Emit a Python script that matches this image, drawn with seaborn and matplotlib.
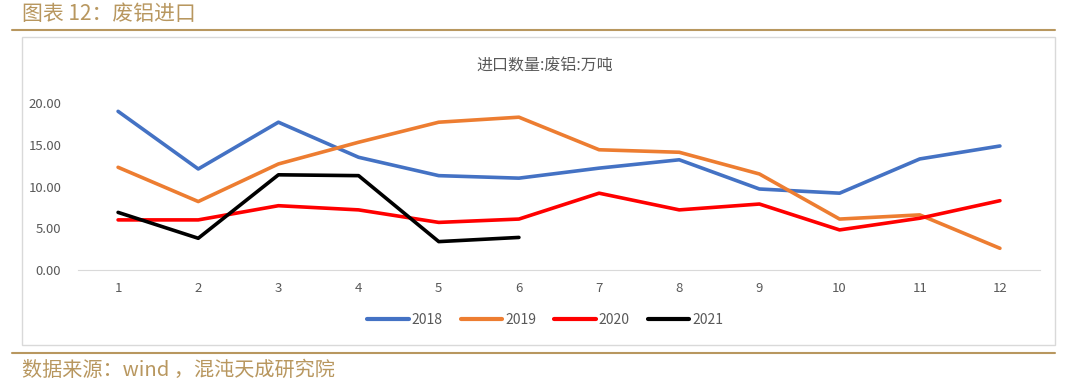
import pandas as pd
import seaborn as sns
import matplotlib.pyplot as plt
from matplotlib.patches import Rectangle

# Data
months = list(range(1, 13))
v2018 = [19.0, 12.1, 17.7, 13.5, 11.3, 11.0, 12.2, 13.2, 9.7, 9.2, 13.3, 14.85]
v2019 = [12.3, 8.2, 12.7, 15.3, 17.7, 18.3, 14.4, 14.1, 11.5, 6.1, 6.6, 2.6]
v2020 = [6.0, 6.0, 7.7, 7.2, 5.7, 6.1, 9.2, 7.2, 7.9, 4.8, 6.2, 8.3]
v2021 = [6.9, 3.8, 11.4, 11.3, 3.4, 3.9]
years = ["2018", "2019", "2020", "2021"]
colors = ["#4472C4", "#ED7D31", "#FF0000", "#000000"]

frames = []
for yr, vals in zip(years, [v2018, v2019, v2020, v2021]):
    frames.append(pd.DataFrame({"month": months[:len(vals)], "value": vals, "year": yr}))
df = pd.concat(frames, ignore_index=True)

sns.set_style("white")
plt.rcParams['font.family'] = ['Noto Sans CJK SC', 'DejaVu Sans']

fig = plt.figure(figsize=(10.8, 3.85), dpi=100)
W, H = 1080, 385

gold = "#B8975F"
# header / footer
fig.text(22 / W, 1 - 14 / H, "图表 12：废铝进口", color=gold, fontsize=15, va="center", ha="left")
fig.add_artist(plt.Line2D([12 / W, 1055 / W], [1 - 30 / H] * 2, color=gold, lw=1.5))
fig.add_artist(plt.Line2D([12 / W, 1055 / W], [1 - 353 / H] * 2, color=gold, lw=1.5))
fig.text(22 / W, 1 - 370 / H, "数据来源：wind ，混沌天成研究院", color=gold, fontsize=14.5, va="center", ha="left")

# chart border
fig.add_artist(Rectangle((22 / W, 1 - 345 / H), (1055 - 22) / W, (345 - 37) / H,
                         transform=fig.transFigure, fill=False, edgecolor="#D9D9D9", lw=1))

ax = fig.add_axes([78 / W, 1 - 270 / H, (1040 - 78) / W, (270 - 103) / H])
sns.lineplot(data=df, x="month", y="value", hue="year", palette=colors,
             linewidth=2.6, ax=ax, legend=False)
for ln in ax.lines:
    ln.set_clip_on(False)

ax.set_xlim(0.5, 12.5)
ax.set_ylim(0, 20)
ax.set_xticks(months)
ax.set_yticks([0, 5, 10, 15, 20])
ax.set_yticklabels([f"{v:.2f}" for v in [0, 5, 10, 15, 20]])
ax.tick_params(axis="both", colors="#595959", labelsize=9.5, length=0)
ax.tick_params(axis="x", pad=9)
ax.tick_params(axis="y", pad=12)
for s in ["top", "right", "left"]:
    ax.spines[s].set_visible(False)
ax.spines["bottom"].set_color("#D9D9D9")
ax.set_xlabel("")
ax.set_ylabel("")

fig.text(545 / W, 1 - 66 / H, "进口数量:废铝:万吨", ha="center", va="center", fontsize=11.5, color="#595959")

handles = [plt.Line2D([], [], color=c, lw=3, solid_capstyle="round") for c in colors]
fig.legend(handles, years, loc="center", bbox_to_anchor=(545 / W, 1 - 320 / H), ncol=4,
           frameon=False, fontsize=10, handlelength=3.0, handletextpad=0.2, columnspacing=1.3,
           labelcolor="#595959")

fig.savefig("out.png", dpi=100)
